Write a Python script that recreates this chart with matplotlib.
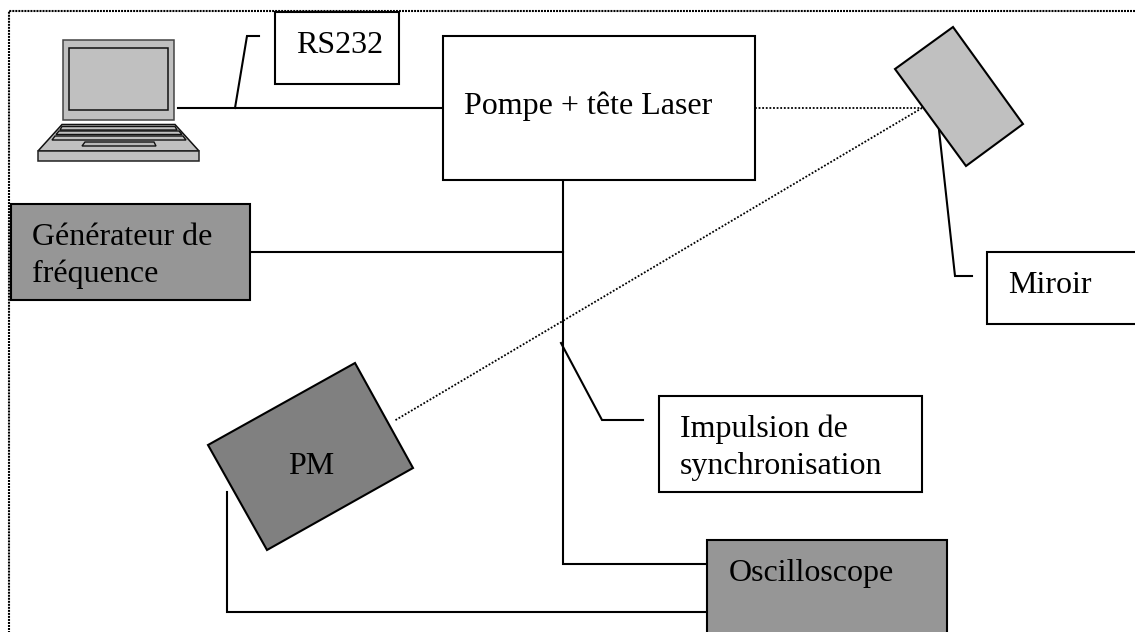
import matplotlib
matplotlib.use("Agg")
import matplotlib.pyplot as plt
from matplotlib.patches import Polygon

W, H = 1135, 632
LW = 1.5

# boxes: (x0, y0, x1, y1, fill)
box_rs232 = (275, 12, 399, 84, "white")
box_pompe = (443, 36, 755, 180, "white")
box_gen = (11, 204, 250, 300, "#969696")
box_miroir = (987, 252, 1140, 324, "white")
box_impulsion = (659, 396, 922, 492, "white")
box_oscillo = (707, 540, 947, 640, "#969696")
boxes = [box_rs232, box_pompe, box_gen, box_miroir, box_impulsion, box_oscillo]

mirror_poly = [(895, 69), (953, 27), (1023, 124), (966, 166)]
pm_poly = [(208, 445), (355, 363), (413, 468), (267, 550)]

solid_lines = [
    [(178, 108), (443, 108)],
    [(235, 108), (247, 36), (259, 36)],
    [(250, 252), (563, 252)],
    [(563, 180), (563, 564), (707, 564)],
    [(561, 343), (602, 420), (643, 420)],
    [(939, 130), (955, 276), (972, 276)],
    [(227, 492), (227, 612), (707, 612)],
]
dotted_lines = [
    [(755, 108), (922, 108)],
    [(922, 108), (394, 421)],
]
frame_line = [(9, 640), (9, 10.5), (1140, 10.5)]

texts = [
    (296, 53, "RS232"),
    (464, 114, "Pompe + tête Laser"),
    (32, 245, "Générateur de"),
    (32, 282, "fréquence"),
    (1008, 293, "Miroir"),
    (288, 474, "PM"),
    (680, 437, "Impulsion de"),
    (680, 474, "synchronisation"),
    (729, 581, "Oscilloscope"),
]

# laptop parts
lap_screen_outer = [(63, 40), (174, 40), (174, 120), (63, 120)]
lap_screen_inner = [(69, 48), (168, 48), (168, 110), (69, 110)]
lap_deck = [(62, 124.5), (175, 124.5), (199, 151), (38, 151)]
lap_base = [(38, 151), (199, 151), (199, 161), (38, 161)]
lap_keys = [
    [(62, 126.5), (175, 126.5), (177, 130), (60, 130)],
    [(59, 131), (179, 131), (182, 134.5), (56, 134.5)],
    [(55, 136), (183, 136), (186, 140), (52, 140)],
]
lap_pad = [(85, 142), (154, 142), (156, 146), (82, 146)]

plt.rcParams["font.family"] = ["Liberation Serif", "DejaVu Serif"]
fig = plt.figure(figsize=(W / 100, H / 100), dpi=100, facecolor="white")
ax = fig.add_axes([0, 0, 1, 1])
ax.set_xlim(0, W)
ax.set_ylim(H, 0)
ax.axis("off")


def poly(pts, fc, lw=LW, ec="black", z=2):
    ax.add_patch(Polygon(pts, closed=True, fc=fc, ec=ec, lw=lw, zorder=z, joinstyle="miter"))


ax.plot(*zip(*frame_line), color="black", lw=1.5, ls=(0, (0.95, 0.5)), zorder=1)

for pts in solid_lines:
    ax.plot(*zip(*pts), color="black", lw=LW, zorder=1, solid_joinstyle="miter")
for pts in dotted_lines:
    ax.plot(*zip(*pts), color="black", lw=1.3, ls=(0, (1, 1)), zorder=1)

for x0, y0, x1, y1, fc in boxes:
    poly([(x0, y0), (x1, y0), (x1, y1), (x0, y1)], fc)

poly(mirror_poly, "#c0c0c0")
poly(pm_poly, "#808080")

poly(lap_screen_outer, "#c0c0c0", lw=1.1, ec="#444444")
poly(lap_screen_inner, "#c0c0c0", lw=1.1, ec="#111111", z=3)
poly(lap_deck, "#c0c0c0", lw=1.1, ec="#111111")
poly(lap_base, "#c0c0c0", lw=1.1, ec="#222222")
for k in lap_keys:
    poly(k, "#c0c0c0", lw=1.0, ec="#111111", z=3)
poly(lap_pad, "#b8b8b8", lw=1.0, ec="#111111", z=3)

for x, y, s in texts:
    ax.text(x, y, s, fontsize=23, color="black", ha="left", va="baseline", zorder=5)

fig.savefig("out.png", dpi=100)
